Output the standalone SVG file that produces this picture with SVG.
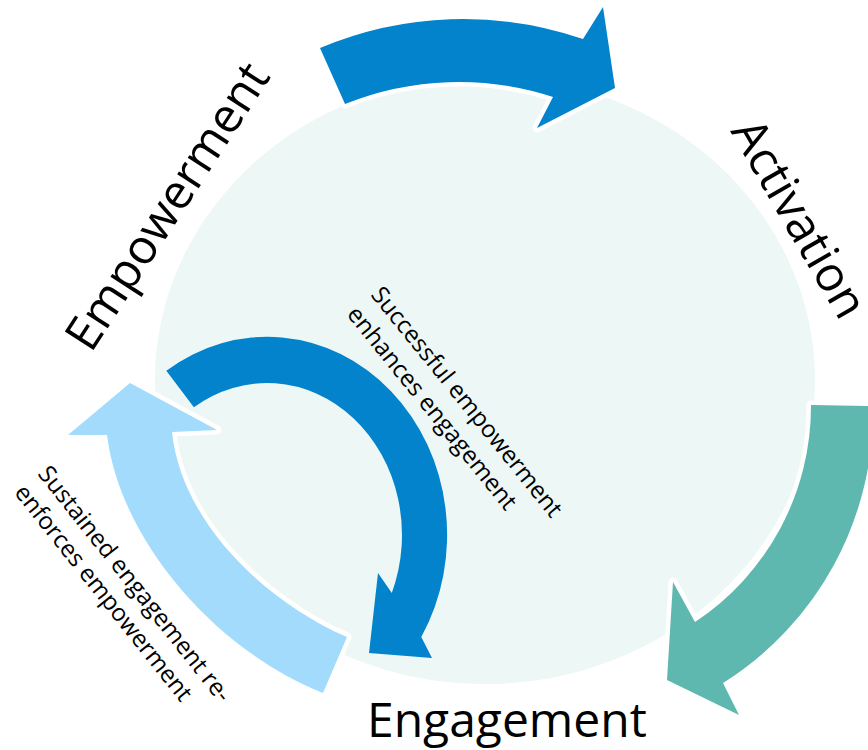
<svg xmlns="http://www.w3.org/2000/svg" width="868" height="750" viewBox="0 0 868 750">
<style>
.bg{fill:#EDF7F5}
.arrow{stroke:#fff;stroke-width:9;paint-order:stroke;stroke-linejoin:round}
.dark{fill:#0283CC}
.teal{fill:#5FB8AF}
.light{fill:#A3DBFD}
.big{font-family:"Open Sans","Noto Sans",sans-serif;font-size:48px;fill:#000}
.small{font-family:"Open Sans","Noto Sans",sans-serif;font-size:24px;fill:#000}
</style>
<rect width="868" height="750" fill="#fff"/>
<ellipse class="bg" cx="485" cy="380" rx="330" ry="304"/>
<g id="connectors">
  <path id="arrow-top" class="arrow dark" d="M320,48 A368,368 0 0 1 583,39 L603,7 L615,88 L537,128 L553,97 A305,305 0 0 0 345,104 Z"/>
  <path id="arrow-right" class="arrow teal" d="M811,405 L873,406 A321,321 0 0 1 723,683 L739,715 L667,680 L673,582 L695,622 A259,259 0 0 0 811,405 Z"/>
  <path id="arrow-left" class="arrow light" d="M130,383 L217,430 L172,432 C181,520 262,600 347,637 L323,693 C215,650 120,540 107,435 L68,435 Z"/>
  <path id="arrow-inner" class="dark" d="M166.3,370.8 A180,198 0 0 1 421.3,637 L432,658 L369,653 L378,573 L391.8,592.9 A135,152 0 0 0 193.9,407.2 Z"/>
  <g id="label-inner"><text class="small" transform="translate(370,295) rotate(51)"><tspan x="0" y="0">Successful empowerment</tspan><tspan x="0" y="31">enhances engagement</tspan></text></g>
  <g id="label-left"><text class="small" transform="translate(37,474) rotate(51.5)"><tspan x="0" y="0">Sustained engagement re-</tspan><tspan x="0" y="30">enforces empowerment</tspan></text></g>
</g>
<g id="node-empowerment"><text class="big" transform="translate(91,354) rotate(-57)">Empowerment</text></g>
<g id="node-activation"><text class="big" transform="translate(730,131) rotate(60)">Activation</text></g>
<g id="node-engagement"><text class="big" x="367" y="737">Engagement</text></g>
</svg>
